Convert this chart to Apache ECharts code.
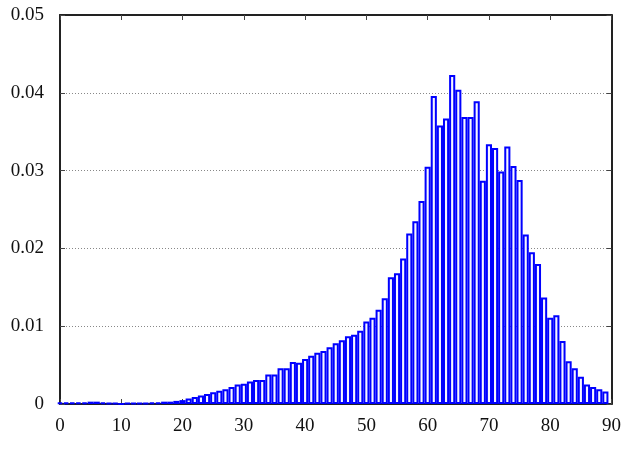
<!DOCTYPE html>
<html>
<head>
<meta charset="utf-8">
<script src="https://cdn.jsdelivr.net/npm/echarts@6/dist/echarts.min.js"></script>
<style>
html,body{margin:0;padding:0;background:#fff;}
#c{width:624px;height:452px;}
</style>
</head>
<body>
<div id="c"></div>
<script>
// bin centres (integers 0..89)
const binCenters = [
  0,1,2,3,4,5,6,7,8,9,10,11,12,13,14,15,16,17,18,19,
  20,21,22,23,24,25,26,27,28,29,30,31,32,33,34,35,36,37,38,39,
  40,41,42,43,44,45,46,47,48,49,50,51,52,53,54,55,56,57,58,59,
  60,61,62,63,64,65,66,67,68,69,70,71,72,73,74,75,76,77,78,79,
  80,81,82,83,84,85,86,87,88,89
];
// relative frequency per bin
const frequencies = [
  0.0002,0.0002,0.0002,0.0002,0.0002,0.0003,0.0003,0.0002,0.0001,0.0001,
  0.0000,0.0001,0.0001,0.0001,0.0001,0.0002,0.0002,0.0003,0.0003,0.0004,
  0.0005,0.0007,0.0009,0.0011,0.0013,0.0015,0.0017,0.0019,0.0022,0.0025,
  0.0026,0.0029,0.0031,0.0031,0.0038,0.0038,0.0046,0.0046,0.0054,0.0053,
  0.0058,0.0062,0.0066,0.0068,0.0073,0.0078,0.0082,0.0087,0.0089,0.0094,
  0.0106,0.0111,0.0121,0.0136,0.0163,0.0168,0.0187,0.0219,0.0235,0.0261,
  0.0305,0.0396,0.0358,0.0367,0.0423,0.0404,0.0369,0.0369,0.0389,0.0287,
  0.0334,0.0329,0.0299,0.0331,0.0306,0.0288,0.0218,0.0195,0.0180,0.0137,
  0.0111,0.0114,0.0081,0.0055,0.0046,0.0035,0.0025,0.0022,0.0019,0.0016
];
const xTicks = [0,10,20,30,40,50,60,70,80,90];
const yTicks = [0,0.01,0.02,0.03,0.04,0.05];

const chart = echarts.init(document.getElementById('c'), null, {renderer:'canvas'});
const labelFont = {fontFamily:'Liberation Serif', fontSize:19, color:'#111'};
const tick = {show:true, inside:true, length:5, lineStyle:{color:'#444', width:1}};
const line = {show:true, onZero:false, lineStyle:{color:'#222', width:2}};
chart.setOption({
  animation:false,
  grid:{left:60, right:9, top:15, bottom:48},
  xAxis:[{
    type:'value', min:xTicks[0], max:xTicks[xTicks.length-1], interval:10, position:'bottom',
    axisLine:line, axisTick:tick, splitLine:{show:false},
    axisLabel:Object.assign({margin:13}, labelFont)
  },{
    type:'value', min:xTicks[0], max:xTicks[xTicks.length-1], interval:10, position:'top',
    axisLine:line, axisTick:tick, splitLine:{show:false}, axisLabel:{show:false}
  }],
  yAxis:[{
    type:'value', min:yTicks[0], max:yTicks[yTicks.length-1], interval:0.01, position:'left',
    axisLine:line, axisTick:tick,
    splitLine:{show:true, lineStyle:{color:'#888', type:[1,2], width:1}},
    axisLabel:Object.assign({margin:16, formatter:v => v===0 ? '0' : v.toFixed(2)}, labelFont)
  },{
    type:'value', min:yTicks[0], max:yTicks[yTicks.length-1], interval:0.01, position:'right',
    axisLine:line, axisTick:tick, splitLine:{show:false}, axisLabel:{show:false}
  }],
  series:[{
    type:'bar',
    xAxisIndex:0, yAxisIndex:0,
    data: binCenters.map((c,i)=>[c, frequencies[i]]),
    barWidth:'100%',
    clip:true,
    itemStyle:{color:'#f6f6ff', borderColor:'#0000ff', borderWidth:2}
  }]
});
</script>
</body>
</html>
